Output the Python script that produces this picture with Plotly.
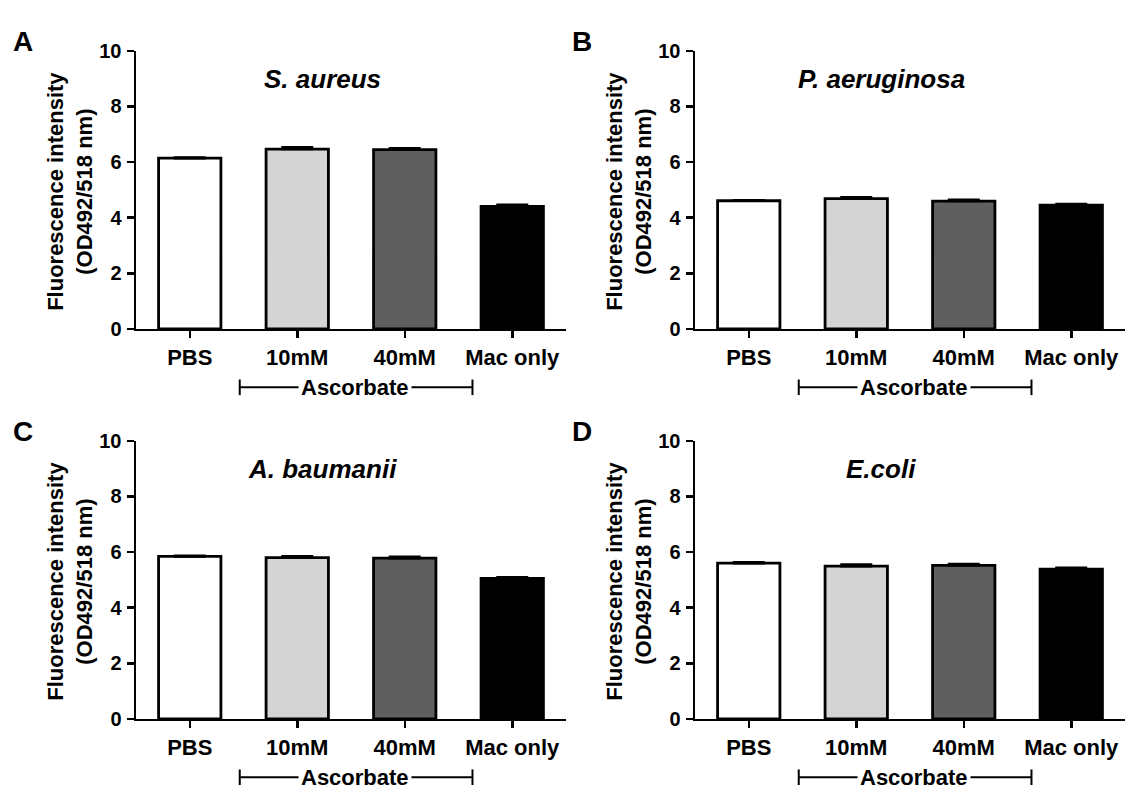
import plotly.graph_objects as go

categories = ["PBS", "10mM", "40mM", "Mac only"]
bar_colors = ["#ffffff", "#d4d4d4", "#5f5f5f", "#000000"]

sa_values = [6.14, 6.47, 6.45, 4.41]
sa_errors = [0.03, 0.06, 0.05, 0.06]
pa_values = [4.61, 4.69, 4.60, 4.45]
pa_errors = [0.02, 0.05, 0.05, 0.04]
ab_values = [5.84, 5.80, 5.78, 5.05]
ab_errors = [0.03, 0.05, 0.05, 0.04]
ec_values = [5.60, 5.49, 5.52, 5.38]
ec_errors = [0.03, 0.06, 0.05, 0.05]

titles = ["S. aureus", "P. aeruginosa", "A. baumanii", "E.coli"]
letters = ["A", "B", "C", "D"]
y_ticks = [0, 2, 4, 6, 8, 10]

W, H = 1128, 796
FONT = "Liberation Sans, Arial, sans-serif"

# panel pixel geometry: (x_left, x_right, y_top(10), y_bottom(0))
panels = [
    (136, 566, 41, 327),
    (695, 1125, 41, 327),
    (136, 566, 442, 728),
    (695, 1125, 442, 728),
]
all_values = [sa_values, pa_values, ab_values, ec_values]
all_errors = [sa_errors, pa_errors, ab_errors, ec_errors]

fig = go.Figure()
layout = dict(
    width=W, height=H,
    margin=dict(l=0, r=0, t=0, b=0),
    paper_bgcolor="white", plot_bgcolor="white",
    showlegend=False,
    font=dict(family=FONT, color="black"),
)
annotations = []
shapes = []

for i, (x0, x1, yt, yb) in enumerate(panels):
    n = i + 1
    xa = "x" if n == 1 else f"x{n}"
    ya = "y" if n == 1 else f"y{n}"
    fig.add_trace(go.Bar(
        x=categories, y=all_values[i],
        marker=dict(color=bar_colors, line=dict(color="black", width=2.8)),
        width=0.58,
        error_y=dict(type="data", array=all_errors[i], arrayminus=[0] * 4,
                     symmetric=False, color="black", thickness=2.5, width=16),
        xaxis=xa, yaxis=ya,
    ))
    axis_common = dict(
        showline=True, linecolor="black", linewidth=2.5,
        ticks="outside", ticklen=7, tickwidth=2.5, tickcolor="black",
        showgrid=False, zeroline=False,
        fixedrange=True,
    )
    layout["xaxis" if n == 1 else f"xaxis{n}"] = dict(
        axis_common,
        domain=[x0 / W, x1 / W],
        anchor=ya,
        range=[-0.5, 3.5],
        type="category",
        categoryorder="array", categoryarray=categories,
        tickfont=dict(family=FONT, size=22, color="black", weight="bold"),
    )
    layout["yaxis" if n == 1 else f"yaxis{n}"] = dict(
        axis_common,
        domain=[1 - yb / H, 1 - yt / H],
        anchor=xa,
        range=[0, 10],
        tickvals=y_ticks,
        ticklabelstandoff=1,
        tickfont=dict(family=FONT, size=20, color="black", weight="bold"),
    )
    # subplot title
    annotations.append(dict(
        text=f"<b><i>{titles[i]}</i></b>", x=(x0 + 186) / W, y=1 - (yt + 29) / H,
        xref="paper", yref="paper", showarrow=False,
        font=dict(family=FONT, size=26, color="black"),
        xanchor="center", yanchor="middle",
    ))
    # panel letter
    annotations.append(dict(
        text=f"<b>{letters[i]}</b>", x=(x0 - 125) / W, y=1 - (yt - 10) / H,
        xref="paper", yref="paper", showarrow=False,
        font=dict(family=FONT, size=28, color="black"),
        xanchor="left", yanchor="middle",
    ))
    # y-axis title
    annotations.append(dict(
        text="<b>Fluorescence intensity<br>(OD492/518 nm)</b>",
        x=(x0 - 66) / W, y=1 - ((yt + yb) / 2 + 2) / H,
        xref="paper", yref="paper", showarrow=False, textangle=-90,
        font=dict(family=FONT, size=22, color="black"),
        xanchor="center", yanchor="middle",
    ))
    # Ascorbate bracket (in category units)
    by = 1 - (yb + 60) / H
    tick_h = 8 / H
    shapes.append(dict(type="line", xref=xa, yref="paper", x0=0.465, x1=2.63,
                       y0=by, y1=by, line=dict(color="black", width=2)))
    for bx in (0.465, 2.63):
        shapes.append(dict(type="line", xref=xa, yref="paper", x0=bx, x1=bx,
                           y0=by - tick_h, y1=by + tick_h,
                           line=dict(color="black", width=2)))
    annotations.append(dict(
        text="<b>Ascorbate</b>", x=1.54, y=by, xref=xa, yref="paper",
        showarrow=False, bgcolor="white", borderpad=2,
        font=dict(family=FONT, size=22, color="black"),
        xanchor="center", yanchor="middle",
    ))

layout["annotations"] = annotations
layout["shapes"] = shapes
fig.update_layout(**layout)
fig.write_html(
    "out.html",
    config={"displayModeBar": False, "staticPlot": True},
    post_script="document.body.style.margin='0';document.body.style.padding='0';",
)
